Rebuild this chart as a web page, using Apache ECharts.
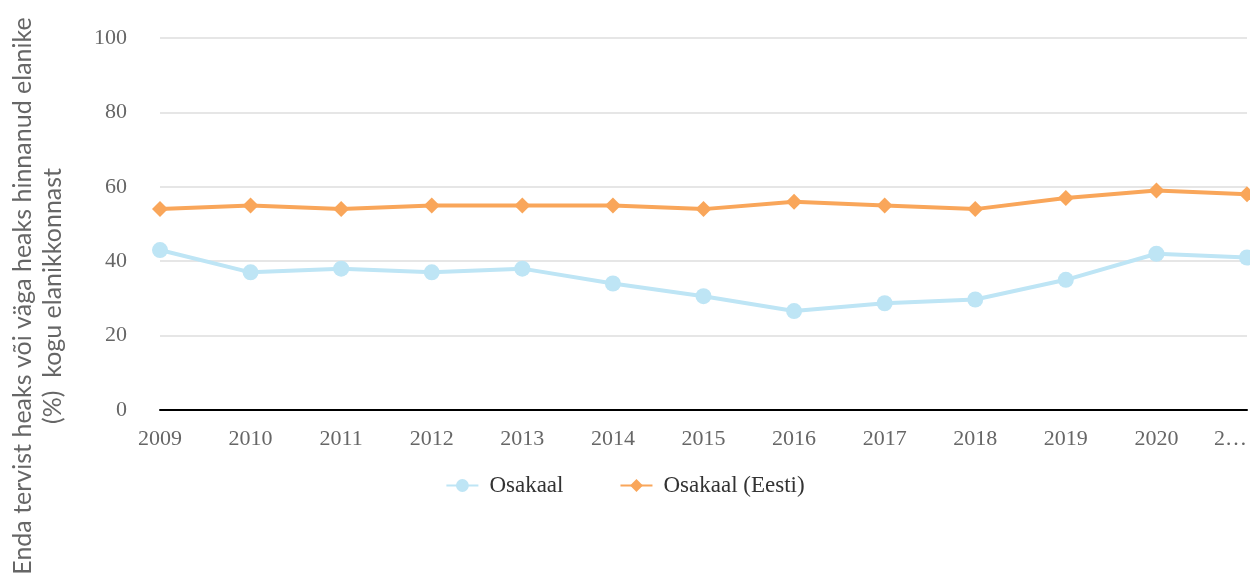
<!DOCTYPE html>
<html>
<head>
<meta charset="utf-8">
<script src="https://cdn.jsdelivr.net/npm/echarts@6/dist/echarts.min.js"></script>
<style>
  html, body { margin: 0; padding: 0; background: #fff; }
  #chart { width: 1250px; height: 576px; }
</style>
</head>
<body>
<div id="chart"></div>
<script>
var years = ['2009', '2010', '2011', '2012', '2013', '2014', '2015', '2016', '2017', '2018', '2019', '2020', '2021'];
var osakaal = [43, 37, 38, 37, 38, 34, 30.6, 26.6, 28.7, 29.7, 35, 42, 41];
var osakaalEesti = [54, 55, 54, 55, 55, 55, 54, 56, 55, 54, 57, 59, 58];
var yTicks = { min: 0, max: 100, interval: 20 };

var myChart = echarts.init(document.getElementById('chart'));
var serif = '"Liberation Serif", "Times New Roman", serif';
var option = {
  animation: false,
  grid: { left: 160, right: 2, top: 38, bottom: 166 },
  legend: {
    top: 469,
    left: 'center',
    itemWidth: 32,
    itemHeight: 16,
    itemGap: 56,
    textStyle: { fontFamily: serif, fontSize: 23, color: '#333', padding: [0, 0, 0, 6] },
    data: ['Osakaal', 'Osakaal (Eesti)']
  },
  graphic: [{
    type: 'text',
    x: 38,
    y: 296,
    rotation: Math.PI / 2,
    style: {
      text: 'Enda tervist heaks või väga heaks hinnanud elanike\n(%)  kogu elanikkonnast',
      fontFamily: 'Lato, sans-serif',
      fontSize: 25,
      lineHeight: 30,
      fill: '#666',
      align: 'center',
      verticalAlign: 'middle'
    }
  }],
  xAxis: {
    type: 'category',
    boundaryGap: false,
    data: years,
    axisLine: { lineStyle: { color: '#000', width: 2 } },
    axisTick: { show: false },
    axisLabel: {
      margin: 18,
      fontFamily: serif,
      fontSize: 22,
      color: '#666',
      alignMaxLabel: 'right',
      formatter: function (v, i) {
        return i === years.length - 1 ? v.charAt(0) + '…' : v;
      }
    }
  },
  yAxis: {
    type: 'value',
    min: yTicks.min,
    max: yTicks.max,
    interval: yTicks.interval,
    axisLine: { show: false },
    axisTick: { show: false },
    axisLabel: { margin: 33, fontFamily: serif, fontSize: 22, color: '#666' },
    splitLine: { lineStyle: { color: '#e6e6e6', width: 2 } }
  },
  series: [{
    name: 'Osakaal',
    type: 'line',
    data: osakaal,
    symbol: 'circle',
    symbolSize: 16,
    color: '#bee5f5',
    lineStyle: { width: 4 }
  }, {
    name: 'Osakaal (Eesti)',
    type: 'line',
    data: osakaalEesti,
    symbol: 'diamond',
    symbolSize: 16,
    color: '#f9a65a',
    lineStyle: { width: 4 }
  }]
};
myChart.setOption(option);
</script>
</body>
</html>
